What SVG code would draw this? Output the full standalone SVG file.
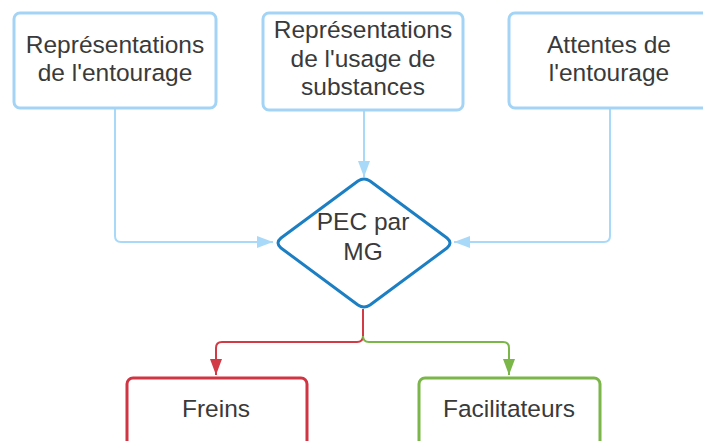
<svg xmlns="http://www.w3.org/2000/svg" width="703" height="441" viewBox="0 0 703 441">
  <style>
    text { font-family: "Liberation Sans", Arial, sans-serif; font-size: 24.5px; fill: #3a3a3a; text-anchor: middle; }
    .src { fill: #ffffff; stroke: #a4d4f5; stroke-width: 3; }
    .dec { fill: #ffffff; stroke: #1d7fc3; stroke-width: 3; stroke-linejoin: round; }
    .neg { fill: #ffffff; stroke: #cf3542; stroke-width: 3; }
    .pos { fill: #ffffff; stroke: #7ab648; stroke-width: 3; }
    .link { fill: none; stroke-width: 2; }
    .in { stroke: #a9d9f8; }
    .red { stroke: #d23a46; }
    .green { stroke: #7ab648; }
  </style>
  <defs>
    <marker id="ah-blue" viewBox="0 0 16 12" refX="16" refY="6" markerWidth="16" markerHeight="12" markerUnits="userSpaceOnUse" orient="auto">
      <path d="M0,0 L16,6 L0,12 Z" fill="#a9d9f8"/>
    </marker>
    <marker id="ah-red" viewBox="0 0 16 12" refX="16" refY="6" markerWidth="16" markerHeight="12" markerUnits="userSpaceOnUse" orient="auto">
      <path d="M0,0 L16,6 L0,12 Z" fill="#d23a46"/>
    </marker>
    <marker id="ah-green" viewBox="0 0 16 12" refX="16" refY="6" markerWidth="16" markerHeight="12" markerUnits="userSpaceOnUse" orient="auto">
      <path d="M0,0 L16,6 L0,12 Z" fill="#7ab648"/>
    </marker>
  </defs>

  <g id="connectors">
    <path class="link in" d="M115,109 V236 Q115,242 121,242 H273" marker-end="url(#ah-blue)"/>
    <path class="link in" d="M364,110 V177" marker-end="url(#ah-blue)"/>
    <path class="link in" d="M610,109 V236 Q610,242 604,242 H454" marker-end="url(#ah-blue)"/>
    <path class="link red" d="M363,309 V336 Q363,342 357,342 H222 Q216,342 216,348 V375" marker-end="url(#ah-red)"/>
    <path class="link green" d="M363,336 Q363,342 369,342 H503 Q509,342 509,348 V375" marker-end="url(#ah-green)"/>
  </g>

  <g id="node-representations-entourage">
    <rect class="src" x="14" y="13" width="202" height="95" rx="6"/>
    <text x="115" y="53">Représentations</text>
    <text x="115" y="81">de l'entourage</text>
  </g>

  <g id="node-representations-usage">
    <rect class="src" x="263" y="13" width="200" height="97" rx="6"/>
    <text x="363" y="38">Représentations</text>
    <text x="363" y="67">de l'usage de</text>
    <text x="363" y="95">substances</text>
  </g>

  <g id="node-attentes-entourage">
    <rect class="src" x="509" y="13" width="202" height="95" rx="6"/>
    <text x="609" y="53">Attentes de</text>
    <text x="609" y="81">l'entourage</text>
  </g>

  <g id="node-pec-mg">
    <path class="dec" d="M358,181 Q364,177 370,181 L447,238 Q453,243 447,248 L370,305 Q364,309 358,305 L281,248 Q275,243 281,238 Z"/>
    <text x="363" y="230">PEC par</text>
    <text x="363" y="260">MG</text>
  </g>

  <g id="node-freins">
    <rect class="neg" x="127" y="378" width="180" height="80" rx="6"/>
    <text x="216" y="417">Freins</text>
  </g>

  <g id="node-facilitateurs">
    <rect class="pos" x="419" y="378" width="181" height="80" rx="6"/>
    <text x="509" y="417">Facilitateurs</text>
  </g>
</svg>
